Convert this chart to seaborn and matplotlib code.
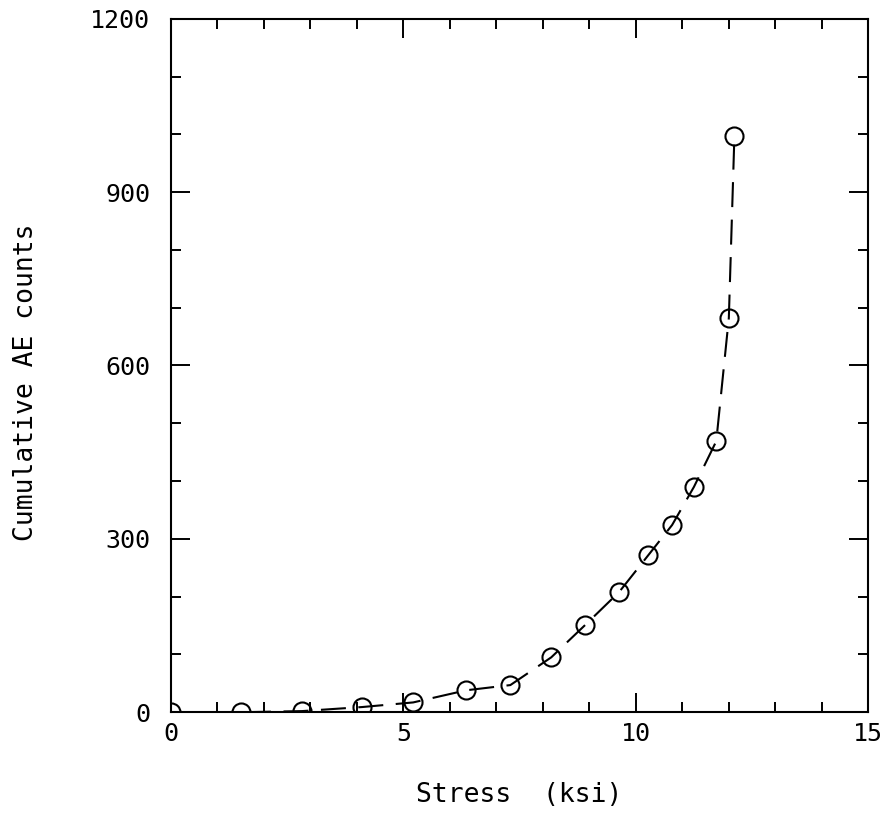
import matplotlib
matplotlib.use("Agg")
import matplotlib.pyplot as plt
from matplotlib.ticker import MultipleLocator
import seaborn as sns
import pandas as pd

stress = [0.0, 1.5, 2.82, 4.11, 5.21, 6.35, 7.3, 8.18, 8.91, 9.64, 10.27, 10.78, 11.25, 11.73, 12.0, 12.12]
counts = [0, 0, 2, 9, 17, 38, 47, 95, 151, 208, 272, 324, 390, 469, 682, 997]
x_ticks = [0, 5, 10, 15]
y_ticks = [0, 300, 600, 900, 1200]

df = pd.DataFrame({"Stress": stress, "Counts": counts})

sns.set_style("ticks")
plt.rcParams['font.family'] = ['DejaVu Sans Mono', 'DejaVu Sans']

fig = plt.figure(figsize=(8.86, 8.14), dpi=100)
ax = fig.add_axes([0.193, 0.125, 0.787, 0.852])

sns.lineplot(data=df, x="Stress", y="Counts", ax=ax, color="black",
             linewidth=1.5, linestyle=(0, (12, 6)), marker="o",
             markersize=13, markerfacecolor="none", markeredgecolor="black",
             markeredgewidth=1.5, sort=False)

ax.set_xlim(0, 15)
ax.set_ylim(0, 1200)
ax.set_xticks(x_ticks)
ax.set_yticks(y_ticks)
ax.xaxis.set_minor_locator(MultipleLocator(1))
ax.yaxis.set_minor_locator(MultipleLocator(100))
ax.tick_params(which="both", direction="in", top=True, right=True,
               width=1.4, colors="black", labelsize=18)
ax.tick_params(axis="x", which="both", pad=7)
ax.tick_params(axis="y", which="both", pad=15)
ax.tick_params(which="major", length=14)
ax.tick_params(which="minor", length=7)
for s in ax.spines.values():
    s.set_linewidth(1.5)
    s.set_color("black")

ax.set_xlabel("Stress  (ksi)", fontsize=19, va="center", color="black")
ax.xaxis.set_label_coords(0.5, -0.12)
ax.set_ylabel("Cumulative AE counts", fontsize=19, va="center", color="black")
ax.yaxis.set_label_coords(-0.208, 0.476)

fig.savefig("out.png", dpi=100)
